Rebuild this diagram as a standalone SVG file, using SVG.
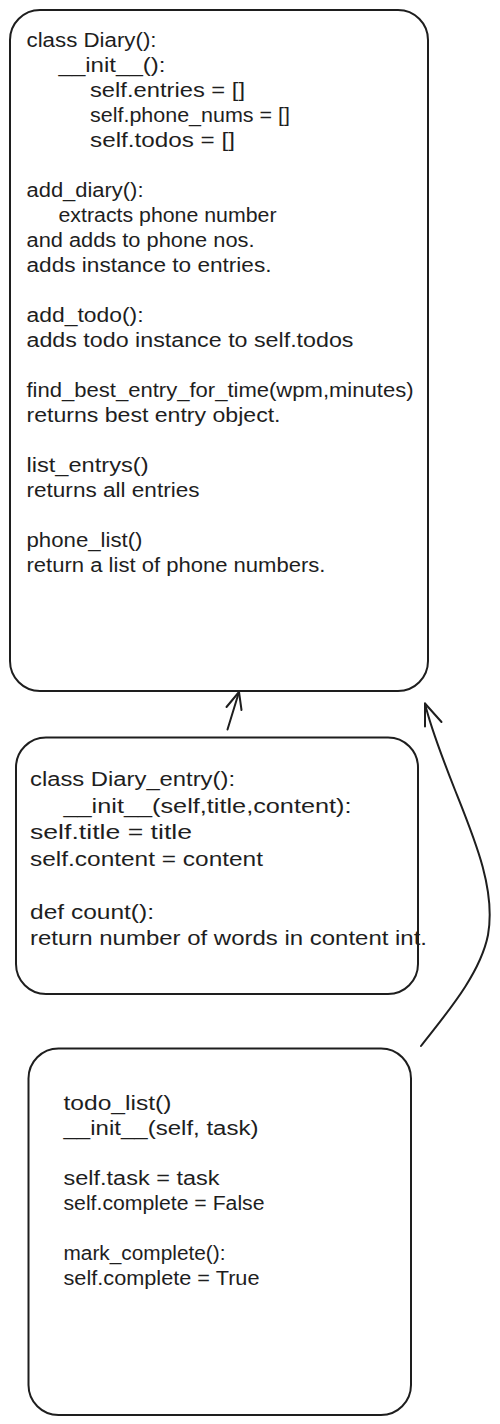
<svg xmlns="http://www.w3.org/2000/svg" width="500" height="1424" viewBox="0 0 500 1424">
<style>
.box{fill:#ffffff;stroke:#1e1e1e;stroke-width:2}
.t{font-family:"Liberation Sans",Arial,sans-serif;font-size:20px;fill:#1e1e1e}
.c{fill:none;stroke:#1e1e1e;stroke-width:2;stroke-linecap:round;stroke-linejoin:round}
</style>
<rect width="500" height="1424" fill="#ffffff"/>
<g id="diary">
<rect class="box" x="10" y="10" width="418" height="681" rx="30" ry="30"/>
<text class="t" x="26.5" y="46.5" textLength="130" lengthAdjust="spacingAndGlyphs">class Diary():</text>
<text class="t" x="58.5" y="71.5" textLength="107" lengthAdjust="spacingAndGlyphs">__init__():</text>
<text class="t" x="90" y="96.5" textLength="155" lengthAdjust="spacingAndGlyphs">self.entries = []</text>
<text class="t" x="90" y="121.5" textLength="200" lengthAdjust="spacingAndGlyphs">self.phone_nums = []</text>
<text class="t" x="90" y="146.5" textLength="145" lengthAdjust="spacingAndGlyphs">self.todos = []</text>
<text class="t" x="26.5" y="196.5" textLength="117" lengthAdjust="spacingAndGlyphs">add_diary():</text>
<text class="t" x="58.5" y="221.5" textLength="218" lengthAdjust="spacingAndGlyphs">extracts phone number</text>
<text class="t" x="26.5" y="246.5" textLength="228" lengthAdjust="spacingAndGlyphs">and adds to phone nos.</text>
<text class="t" x="26.5" y="271.5" textLength="245" lengthAdjust="spacingAndGlyphs">adds instance to entries.</text>
<text class="t" x="26.5" y="321.5" textLength="117" lengthAdjust="spacingAndGlyphs">add_todo():</text>
<text class="t" x="26.5" y="346.5" textLength="327" lengthAdjust="spacingAndGlyphs">adds todo instance to self.todos</text>
<text class="t" x="26.5" y="396.5" textLength="387" lengthAdjust="spacingAndGlyphs">find_best_entry_for_time(wpm,minutes)</text>
<text class="t" x="26.5" y="421.5" textLength="254" lengthAdjust="spacingAndGlyphs">returns best entry object.</text>
<text class="t" x="26.5" y="471.5" textLength="122" lengthAdjust="spacingAndGlyphs">list_entrys()</text>
<text class="t" x="26.5" y="496.5" textLength="173" lengthAdjust="spacingAndGlyphs">returns all entries</text>
<text class="t" x="26.5" y="546.5" textLength="116" lengthAdjust="spacingAndGlyphs">phone_list()</text>
<text class="t" x="26.5" y="571.5" textLength="299" lengthAdjust="spacingAndGlyphs">return a list of phone numbers.</text>
</g>
<g id="diary_entry">
<rect class="box" x="16" y="737.5" width="402" height="256.5" rx="30" ry="30"/>
<text class="t" x="30" y="786" textLength="205" lengthAdjust="spacingAndGlyphs">class Diary_entry():</text>
<text class="t" x="63.5" y="812.5" textLength="288" lengthAdjust="spacingAndGlyphs">__init__(self,title,content):</text>
<text class="t" x="30" y="839" textLength="162" lengthAdjust="spacingAndGlyphs">self.title = title</text>
<text class="t" x="30" y="865.5" textLength="233" lengthAdjust="spacingAndGlyphs">self.content = content</text>
<text class="t" x="30" y="918.5" textLength="124" lengthAdjust="spacingAndGlyphs">def count():</text>
<text class="t" x="30" y="945" textLength="397" lengthAdjust="spacingAndGlyphs">return number of words in content int.</text>
</g>
<g id="todo_list">
<rect class="box" x="28.5" y="1048.5" width="382.5" height="366.5" rx="30" ry="30"/>
<text class="t" x="63.5" y="1110" textLength="108" lengthAdjust="spacingAndGlyphs">todo_list()</text>
<text class="t" x="63.5" y="1135" textLength="195" lengthAdjust="spacingAndGlyphs">__init__(self, task)</text>
<text class="t" x="63.5" y="1185" textLength="156" lengthAdjust="spacingAndGlyphs">self.task = task</text>
<text class="t" x="63.5" y="1210" textLength="201" lengthAdjust="spacingAndGlyphs">self.complete = False</text>
<text class="t" x="63.5" y="1260" textLength="162" lengthAdjust="spacingAndGlyphs">mark_complete():</text>
<text class="t" x="63.5" y="1285" textLength="196" lengthAdjust="spacingAndGlyphs">self.complete = True</text>
</g>
<g id="connectors">
<path class="c" d="M227.5 729.5 L239 692"/>
<path class="c" d="M226.5 707 L239 692 L241.5 710"/>
<path class="c" d="M421 1046 C445 1015 480 975 488 935 C496 890 475 840 455 790 C440 752 430 725 425 703.5"/>
<path class="c" d="M425 726.5 L425 703.5 L441.5 722"/>
</g>
</svg>
